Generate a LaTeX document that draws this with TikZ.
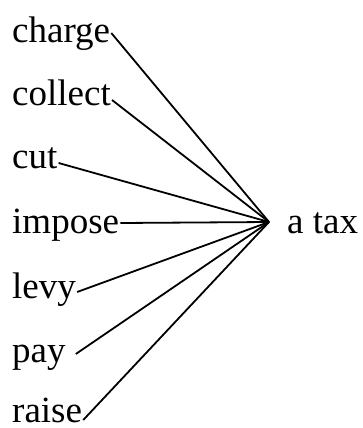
\documentclass[tikz,border=0pt]{standalone}
\usepackage{fontspec}
\setmainfont{Liberation Serif}
\begin{document}
\begin{tikzpicture}[x=1pt,y=1pt,
  word/.style={inner sep=0pt,anchor=base west,font=\fontsize{37}{40}\selectfont},
  link/.style={line width=1.8pt}]
\useasboundingbox (0,0) rectangle (363,-428);
\node[word] (charge)  at (12,-42)  {charge};
\node[word] (collect) at (12,-105) {collect};
\node[word] (cut)     at (12,-168) {cut};
\node[word] (impose)  at (12,-233) {impose};
\node[word] (levy)    at (12,-298) {levy};
\node[word] (pay)     at (12,-362) {pay};
\node[word] (raise)   at (12,-422) {raise};
\node[word] (tax)     at (287,-233) {a tax};
\coordinate (hub) at (269,-222);
\draw[link] ([xshift=1pt,yshift=9pt]charge.base east) -- (hub);
\draw[link] ([xshift=1pt,yshift=5pt]collect.base east) -- (hub);
\draw[link] ([xshift=1pt,yshift=5pt]cut.base east) -- (hub);
\draw[link] ([xshift=1pt,yshift=10pt]impose.base east) -- (hub);
\draw[link] ([xshift=1pt,yshift=6pt]levy.base east) -- (hub);
\draw[link] ([xshift=10pt,yshift=8pt]pay.base east) -- (hub);
\draw[link] ([xshift=1pt,yshift=2pt]raise.base east) -- (hub);
\end{tikzpicture}
\end{document}
